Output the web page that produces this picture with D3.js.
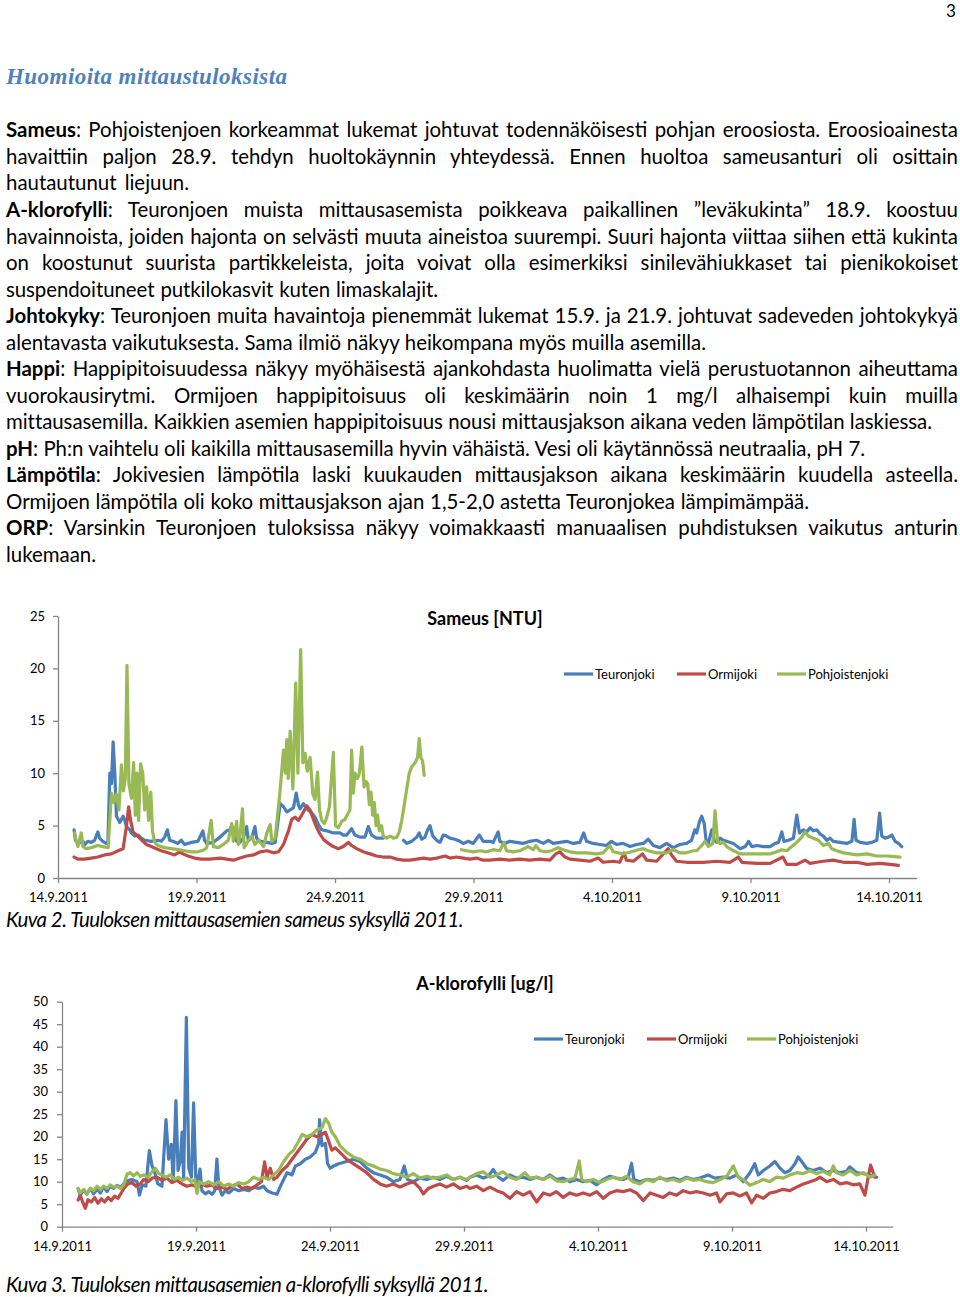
<!DOCTYPE html>
<html><head><meta charset="utf-8">
<script src="https://cdn.jsdelivr.net/npm/d3@7"></script>
<style>
html,body{margin:0;padding:0;background:#fff;}
body{width:960px;height:1297px;position:relative;overflow:hidden;font-family:Lato,"Open Sans",sans-serif;color:#000;}
.line{position:absolute;left:6px;white-space:normal;text-align:justify;text-align-last:justify;line-height:1;}
.fit{text-align:left;text-align-last:left;white-space:nowrap;}
.meas{position:absolute;left:0;top:0;visibility:hidden;white-space:nowrap;line-height:1;}
.ttl{font-family:"Liberation Serif","DejaVu Serif",serif;font-weight:bold;font-style:italic;color:#4F81BD;}
.cap{font-style:italic;}
svg{position:absolute;left:0;top:0;}
</style></head><body>
<script>
// ---------------- DATA (day offset from 14.9.2011 00:00, value) ----------------
const startDate = Date.UTC(2011, 8, 14);
const xTickDays = [0, 5, 10, 15, 20, 25, 30];
const seriesNames = ["Teuronjoki", "Ormijoki", "Pohjoistenjoki"];
const seriesColors = ["#4A7EBB", "#BE4B48", "#98B954"];
const sameusTicks = [0, 5, 10, 15, 20, 25];
const klorofylliTicks = [0, 5, 10, 15, 20, 25, 30, 35, 40, 45, 50];

const sameusTeuronjoki = [[0.58,4.6],[0.63,3.6],[0.72,3.3],[0.90,3.5],[0.96,3.2],[1.08,3.5],[1.20,3.4],[1.32,3.6],[1.44,4.4],[1.50,3.8],[1.62,3.5],[1.74,3.3],[1.80,3.3],[1.87,10.0],[1.93,9.0],[1.99,13.0],[2.05,10.0],[2.11,5.9],[2.17,5.6],[2.23,5.3],[2.35,5.9],[2.41,5.5],[2.47,4.9],[2.59,4.6],[2.65,4.3],[2.77,4.0],[2.89,4.1],[3.01,3.8],[3.13,3.6],[3.37,3.5],[3.61,3.6],[3.73,3.5],[3.85,3.9],[3.95,4.6],[4.03,3.6],[4.15,3.5],[4.33,3.3],[4.45,3.6],[4.57,3.2],[4.81,3.4],[5.05,3.5],[5.23,4.5],[5.29,3.6],[5.37,3.3],[5.61,3.4],[5.85,3.9],[5.97,4.2],[6.09,4.5],[6.21,4.6],[6.27,5.0],[6.33,4.5],[6.45,3.5],[6.57,3.4],[6.69,3.8],[6.81,4.9],[6.87,3.6],[6.99,3.8],[7.11,4.9],[7.17,3.8],[7.30,3.5],[7.54,3.4],[7.72,3.3],[7.84,3.4],[7.90,4.5],[8.02,7.1],[8.14,6.8],[8.26,6.3],[8.38,6.5],[8.50,6.7],[8.60,8.1],[8.68,7.0],[8.74,6.6],[8.86,7.1],[8.98,6.6],[9.16,6.2],[9.28,5.8],[9.40,5.1],[9.52,4.6],[9.70,4.5],[9.94,4.3],[10.18,4.3],[10.30,4.1],[10.42,4.1],[10.60,4.7],[10.72,4.1],[10.90,3.9],[11.08,3.9],[11.20,4.9],[11.32,4.1],[11.50,3.8],[11.74,3.8],[12.1,null],[12.47,3.6],[12.59,3.3],[12.77,3.5],[12.95,3.9],[13.04,4.3],[13.13,3.7],[13.25,3.9],[13.33,4.5],[13.43,5.0],[13.53,4.0],[13.67,3.6],[13.79,3.4],[13.91,4.1],[14.03,4.0],[14.15,3.8],[14.33,3.7],[14.51,3.5],[14.63,3.3],[14.81,3.5],[14.99,3.3],[15.21,4.1],[15.35,3.5],[15.59,3.5],[15.71,3.4],[15.89,4.4],[15.95,3.5],[16.13,3.3],[16.31,3.5],[16.55,3.4],[16.79,3.3],[17.03,3.5],[17.28,3.6],[17.52,3.3],[17.70,3.6],[17.88,3.3],[18.12,3.4],[18.36,3.5],[18.60,3.3],[18.84,3.4],[18.98,4.3],[19.08,3.5],[19.32,3.3],[19.56,3.2],[19.80,3.1],[19.98,3.5],[20.16,3.2],[20.40,3.3],[20.65,3.0],[20.89,3.2],[21.13,3.3],[21.31,3.7],[21.49,3.1],[21.73,2.9],[21.97,3.3],[22.21,2.9],[22.45,3.2],[22.69,3.3],[22.87,3.6],[22.99,4.6],[23.06,4.3],[23.16,5.4],[23.24,5.9],[23.33,5.2],[23.40,3.5],[23.48,3.3],[23.60,4.6],[23.69,3.6],[23.78,3.4],[23.90,3.8],[24.02,3.6],[24.14,3.5],[24.38,3.3],[24.63,2.8],[24.81,3.0],[24.93,3.5],[25.05,3.0],[25.23,3.1],[25.47,3.0],[25.71,3.0],[25.89,3.3],[26.01,3.4],[26.13,4.4],[26.21,3.5],[26.37,3.6],[26.55,3.8],[26.67,6.0],[26.77,4.3],[26.91,4.6],[27.03,4.4],[27.15,4.8],[27.27,4.5],[27.39,4.6],[27.51,4.2],[27.63,4.0],[27.75,3.6],[27.87,3.8],[27.99,3.5],[28.23,3.4],[28.48,3.3],[28.66,3.5],[28.74,5.6],[28.81,3.6],[28.96,3.4],[29.20,3.3],[29.38,3.4],[29.56,3.6],[29.66,6.2],[29.74,4.0],[29.86,3.8],[29.98,3.9],[30.10,4.1],[30.22,3.5],[30.34,3.3],[30.46,3.0]];

const sameusOrmijoki = [[0.58,2.0],[0.72,1.8],[0.96,1.8],[1.20,1.9],[1.44,2.0],[1.68,2.2],[1.93,2.3],[2.17,2.6],[2.35,2.8],[2.47,4.9],[2.55,6.8],[2.62,5.5],[2.71,4.4],[2.83,4.1],[2.95,3.8],[3.07,3.5],[3.19,3.2],[3.37,3.0],[3.55,2.8],[3.73,2.6],[3.97,2.4],[4.21,2.2],[4.39,2.5],[4.51,2.3],[4.69,2.1],[4.93,1.9],[5.17,1.8],[5.49,1.8],[5.85,1.9],[6.09,1.8],[6.33,1.7],[6.57,1.9],[6.81,2.1],[7.06,2.2],[7.30,2.5],[7.54,2.6],[7.78,2.4],[7.96,2.5],[8.14,3.2],[8.32,4.5],[8.44,5.6],[8.56,5.8],[8.68,5.5],[8.80,6.0],[8.98,6.9],[9.10,6.5],[9.22,5.6],[9.34,4.8],[9.46,4.2],[9.58,3.7],[9.76,3.3],[9.94,3.0],[10.12,2.8],[10.30,3.0],[10.48,3.4],[10.60,3.1],[10.78,2.8],[11.02,2.5],[11.26,2.3],[11.50,2.1],[11.74,2.0],[11.99,2.0],[12.23,1.8],[12.47,1.7],[12.71,1.7],[12.95,1.8],[13.19,1.9],[13.43,1.8],[13.67,1.9],[13.97,2.1],[14.15,1.9],[14.39,2.0],[14.63,1.9],[14.87,1.8],[15.11,1.9],[15.35,1.7],[15.59,1.7],[15.95,1.8],[16.31,1.7],[16.67,1.8],[17.03,1.7],[17.40,1.8],[17.76,1.7],[17.97,2.3],[18.12,2.5],[18.30,2.0],[18.48,1.8],[18.84,1.7],[19.20,1.6],[19.50,1.9],[19.68,1.5],[20.04,1.6],[20.28,1.5],[20.43,2.4],[20.52,1.7],[20.77,1.6],[21.10,2.3],[21.25,1.7],[21.61,1.6],[22.03,2.8],[22.15,2.2],[22.33,1.6],[22.69,1.5],[23.05,1.5],[23.30,1.5],[23.78,1.6],[24.26,1.5],[24.56,2.0],[24.69,1.5],[25.23,1.4],[25.71,1.4],[26.17,2.0],[26.31,1.3],[26.67,1.3],[26.97,1.7],[27.15,1.4],[27.39,1.5],[27.63,1.6],[27.99,1.7],[28.36,1.5],[28.84,1.5],[29.20,1.3],[29.68,1.4],[30.04,1.3],[30.34,1.2]];

const sameusPohjoistenjoki = [[0.60,4.3],[0.66,3.5],[0.72,3.0],[0.84,4.3],[0.90,3.0],[1.02,2.8],[1.20,2.9],[1.44,3.1],[1.62,3.0],[1.81,2.9],[1.93,8.1],[2.02,7.2],[2.11,8.0],[2.20,6.5],[2.29,10.8],[2.36,8.3],[2.43,9.5],[2.49,20.3],[2.56,9.0],[2.65,7.6],[2.73,11.0],[2.79,6.0],[2.85,10.0],[2.91,5.5],[2.98,10.9],[3.06,10.0],[3.13,6.5],[3.20,8.7],[3.27,5.5],[3.35,8.2],[3.41,4.5],[3.49,3.4],[3.61,3.1],[3.85,2.9],[4.09,2.8],[4.33,2.7],[4.57,2.6],[4.81,2.5],[5.05,2.5],[5.29,2.7],[5.37,2.9],[5.53,5.5],[5.61,3.0],[5.79,2.9],[5.97,3.2],[6.15,3.6],[6.27,5.2],[6.33,3.5],[6.45,5.4],[6.51,3.2],[6.57,4.0],[6.66,6.6],[6.72,2.9],[6.81,3.3],[6.99,4.0],[7.11,3.2],[7.24,3.6],[7.42,3.0],[7.54,4.3],[7.66,5.1],[7.72,3.5],[7.84,3.8],[7.96,6.8],[8.04,9.0],[8.14,12.2],[8.21,10.0],[8.26,13.2],[8.31,9.5],[8.38,14.0],[8.48,8.5],[8.58,18.6],[8.66,10.0],[8.76,21.8],[8.84,11.0],[8.92,11.9],[9.00,10.2],[9.10,11.5],[9.20,8.0],[9.28,7.5],[9.37,10.1],[9.44,6.5],[9.52,5.5],[9.61,5.2],[9.68,5.6],[9.80,6.8],[9.94,12.0],[10.02,5.0],[10.12,4.8],[10.24,5.4],[10.36,5.6],[10.48,6.2],[10.54,6.5],[10.60,12.2],[10.66,8.1],[10.72,10.0],[10.81,9.5],[10.88,10.0],[10.97,12.5],[11.05,8.7],[11.12,9.2],[11.18,9.0],[11.24,7.0],[11.30,8.2],[11.36,6.0],[11.42,7.2],[11.48,5.0],[11.54,6.0],[11.60,4.5],[11.68,5.0],[11.74,4.0],[11.86,3.8],[11.99,4.0],[12.11,3.8],[12.23,3.9],[12.32,4.4],[12.41,5.5],[12.49,6.8],[12.59,8.5],[12.68,10.0],[12.77,10.6],[12.89,11.0],[12.98,11.5],[13.04,13.3],[13.10,11.5],[13.16,11.2],[13.22,9.8],[13.9,null],[14.57,2.7],[14.75,2.6],[14.99,2.5],[15.23,2.6],[15.47,2.5],[15.71,2.7],[15.95,2.6],[16.10,3.4],[16.19,2.6],[16.43,2.5],[16.67,2.6],[16.97,3.0],[17.16,2.7],[17.25,3.1],[17.40,2.6],[17.64,2.5],[17.82,2.6],[18.06,2.9],[18.24,2.7],[18.48,2.5],[18.72,2.4],[19.08,2.4],[19.44,2.3],[19.68,2.4],[19.92,3.1],[20.04,2.5],[20.40,2.3],[20.71,2.5],[20.95,2.7],[21.13,2.8],[21.31,2.6],[21.61,2.4],[21.97,2.4],[22.21,2.7],[22.45,2.4],[22.69,2.4],[22.93,2.6],[23.06,2.6],[23.24,3.1],[23.36,3.5],[23.48,3.0],[23.64,3.3],[23.72,6.4],[23.81,3.5],[23.90,3.3],[24.02,3.4],[24.14,3.0],[24.32,2.7],[24.63,2.3],[24.99,2.3],[25.35,2.3],[25.71,2.3],[25.95,2.5],[26.13,2.7],[26.31,2.6],[26.49,3.0],[26.67,3.4],[26.85,3.9],[26.97,4.4],[27.09,4.0],[27.27,3.8],[27.45,3.6],[27.63,3.1],[27.81,3.3],[27.93,2.8],[28.11,2.6],[28.36,2.4],[28.60,2.3],[28.84,2.2],[29.20,2.3],[29.56,2.1],[29.92,2.1],[30.40,2.0]];

const klorofylliTeuronjoki = [[0.60,8.5],[0.68,7.0],[0.81,8.2],[0.93,7.2],[1.06,8.5],[1.18,7.3],[1.31,8.3],[1.43,7.5],[1.55,8.8],[1.68,7.8],[1.80,9.0],[1.93,8.5],[2.05,9.2],[2.18,8.8],[2.30,9.5],[2.43,10.2],[2.61,10.5],[2.80,10.0],[2.89,7.0],[2.99,9.3],[3.13,9.0],[3.26,16.9],[3.36,13.5],[3.46,12.0],[3.58,9.5],[3.73,9.0],[3.88,23.8],[3.98,15.0],[4.08,18.3],[4.15,10.0],[4.25,28.0],[4.33,12.5],[4.42,15.0],[4.48,21.0],[4.54,10.5],[4.64,46.5],[4.73,13.0],[4.83,11.0],[4.91,27.5],[5.00,9.0],[5.07,10.0],[5.15,12.8],[5.22,8.0],[5.35,7.3],[5.47,7.8],[5.60,7.2],[5.70,8.0],[5.78,15.0],[5.85,9.0],[5.97,7.0],[6.09,8.0],[6.22,7.5],[6.41,8.5],[6.59,8.0],[6.78,8.3],[6.97,8.0],[7.15,8.8],[7.34,8.5],[7.52,9.0],[7.65,8.0],[7.84,7.5],[8.02,7.2],[8.15,9.0],[8.27,10.5],[8.40,12.0],[8.58,11.5],[8.71,13.5],[8.89,14.0],[9.08,15.0],[9.27,15.5],[9.45,16.5],[9.58,18.5],[9.61,23.8],[9.70,18.0],[9.83,18.5],[9.91,14.0],[10.01,13.0],[10.14,13.5],[10.32,14.0],[10.62,14.5],[10.87,15.0],[11.12,14.5],[11.37,13.0],[11.62,12.0],[11.87,11.5],[12.11,11.0],[12.36,10.0],[12.61,10.5],[12.77,13.5],[12.89,10.5],[13.11,10.0],[13.36,10.8],[13.61,10.5],[13.86,11.0],[14.10,10.5],[14.35,11.2],[14.60,10.5],[14.85,11.0],[15.10,10.3],[15.22,11.0],[15.47,11.5],[15.72,10.8],[15.90,11.2],[16.09,12.7],[16.28,11.0],[16.46,10.3],[16.71,11.5],[16.96,10.8],[17.21,11.0],[17.46,10.5],[17.71,11.0],[17.96,10.5],[18.21,11.5],[18.45,10.5],[18.70,10.8],[18.95,10.0],[19.20,10.5],[19.45,10.0],[19.70,10.3],[19.95,9.3],[20.20,10.5],[20.44,11.2],[20.69,10.8],[20.94,10.5],[21.13,11.0],[21.25,14.1],[21.34,10.5],[21.56,10.0],[21.81,10.5],[22.06,10.3],[22.31,10.8],[22.56,10.5],[22.81,10.8],[23.06,10.3],[23.30,11.0],[23.55,10.5],[23.80,10.8],[24.11,11.5],[24.36,10.8],[24.67,11.0],[24.92,10.8],[25.17,11.5],[25.42,10.0],[25.67,12.0],[25.85,14.0],[25.98,11.5],[26.17,12.5],[26.41,13.5],[26.60,14.5],[26.79,13.0],[26.97,12.0],[27.16,12.5],[27.35,14.0],[27.47,15.5],[27.60,14.5],[27.78,13.0],[28.03,12.5],[28.28,13.0],[28.53,12.0],[28.78,12.5],[29.03,12.0],[29.27,12.3],[29.40,13.3],[29.65,12.0],[29.90,11.8],[30.15,11.5],[30.40,11.0]];

const klorofylliOrmijoki = [[0.60,5.9],[0.68,7.0],[0.77,5.5],[0.87,4.1],[0.97,6.0],[1.09,5.5],[1.22,6.5],[1.34,5.2],[1.47,6.2],[1.59,5.5],[1.72,6.5],[1.84,5.8],[1.97,6.8],[2.09,6.3],[2.21,7.5],[2.34,8.8],[2.46,9.5],[2.61,9.8],[2.76,9.0],[2.92,9.5],[3.05,10.5],[3.21,10.0],[3.36,10.8],[3.54,11.0],[3.73,10.3],[3.92,10.8],[4.10,9.8],[4.29,10.3],[4.48,9.5],[4.66,9.0],[4.85,9.3],[5.04,8.8],[5.22,9.5],[5.41,9.0],[5.60,9.3],[5.78,8.5],[5.97,8.8],[6.16,8.3],[6.34,9.0],[6.53,9.5],[6.72,8.5],[6.90,8.8],[7.09,8.5],[7.28,9.3],[7.44,10.0],[7.56,14.4],[7.65,11.0],[7.77,13.0],[7.90,10.5],[8.02,11.0],[8.21,12.5],[8.40,13.5],[8.58,15.0],[8.77,16.5],[8.96,18.0],[9.14,19.5],[9.33,20.5],[9.51,20.0],[9.70,20.5],[9.83,21.0],[9.95,19.0],[10.07,17.0],[10.20,17.5],[10.37,16.5],[10.62,15.0],[10.87,14.0],[11.12,13.0],[11.37,12.0],[11.62,10.5],[11.87,9.5],[12.11,9.0],[12.36,9.5],[12.61,8.8],[12.86,9.5],[13.11,10.0],[13.36,8.5],[13.48,7.3],[13.67,8.5],[13.86,9.0],[14.10,9.5],[14.35,8.8],[14.60,9.5],[14.85,8.5],[15.10,9.0],[15.22,8.5],[15.47,9.0],[15.72,8.0],[15.97,8.8],[16.22,8.0],[16.46,7.5],[16.71,6.3],[16.96,7.8],[17.21,7.0],[17.46,7.8],[17.71,5.5],[17.96,7.5],[18.21,7.0],[18.45,7.8],[18.70,6.5],[18.95,7.5],[19.20,7.0],[19.45,7.5],[19.70,7.0],[19.95,7.8],[20.20,6.3],[20.44,7.5],[20.69,8.0],[20.94,7.8],[21.19,8.2],[21.44,7.5],[21.69,5.8],[21.94,7.5],[22.19,7.0],[22.43,6.5],[22.68,7.5],[22.93,7.0],[23.18,8.0],[23.43,7.5],[23.68,7.8],[23.93,7.5],[24.18,7.0],[24.42,7.5],[24.55,5.5],[24.80,7.3],[25.05,7.5],[25.29,6.8],[25.54,7.5],[25.73,5.3],[25.92,7.0],[26.17,6.3],[26.41,7.5],[26.66,7.8],[26.91,8.3],[27.16,8.0],[27.41,8.8],[27.66,9.5],[27.91,10.0],[28.15,10.5],[28.28,11.0],[28.53,10.0],[28.78,10.5],[29.03,9.5],[29.27,9.8],[29.52,9.3],[29.77,9.5],[29.96,7.0],[30.08,11.0],[30.17,13.7],[30.27,12.0],[30.33,11.0]];

const klorofylliPohjoistenjoki = [[0.60,8.5],[0.68,7.5],[0.81,8.3],[0.93,7.3],[1.06,8.5],[1.18,8.0],[1.31,9.0],[1.43,8.2],[1.55,9.0],[1.68,8.5],[1.80,9.3],[1.93,8.8],[2.05,9.0],[2.18,8.5],[2.30,9.3],[2.43,11.7],[2.55,12.0],[2.67,11.3],[2.80,12.0],[2.92,11.2],[3.05,11.5],[3.21,11.0],[3.33,12.0],[3.48,13.0],[3.61,11.8],[3.73,11.5],[3.88,11.0],[4.04,11.5],[4.20,10.5],[4.35,11.0],[4.50,10.3],[4.66,10.8],[4.83,10.0],[4.95,10.5],[5.04,7.4],[5.12,10.0],[5.29,9.5],[5.47,10.0],[5.66,9.3],[5.85,10.0],[6.03,9.0],[6.22,9.5],[6.41,9.0],[6.59,9.8],[6.78,9.5],[6.97,10.0],[7.15,11.0],[7.34,10.5],[7.52,11.0],[7.71,10.5],[7.90,11.5],[8.08,12.5],[8.27,14.5],[8.46,16.0],[8.64,17.0],[8.83,19.0],[8.96,20.5],[9.14,20.0],[9.33,20.5],[9.51,21.5],[9.70,22.0],[9.83,24.0],[9.95,23.0],[10.07,21.0],[10.20,20.0],[10.37,18.0],[10.62,16.5],[10.87,15.5],[11.12,15.0],[11.37,14.0],[11.62,13.5],[11.87,12.8],[12.11,12.5],[12.36,11.8],[12.61,11.5],[12.86,11.0],[13.11,11.8],[13.36,10.8],[13.61,11.2],[13.86,10.8],[14.10,11.0],[14.35,11.5],[14.60,10.5],[14.85,11.0],[15.10,10.5],[15.22,11.0],[15.47,11.8],[15.72,12.2],[15.97,11.0],[16.22,11.5],[16.46,12.2],[16.71,11.0],[16.96,10.5],[17.27,12.0],[17.46,10.8],[17.71,11.0],[17.96,10.5],[18.21,11.2],[18.45,10.2],[18.70,10.0],[18.95,10.5],[19.14,10.8],[19.30,14.6],[19.39,10.5],[19.57,10.0],[19.82,10.5],[20.07,9.8],[20.32,10.5],[20.57,11.0],[20.82,10.5],[21.07,11.2],[21.31,10.0],[21.56,9.5],[21.81,10.5],[22.06,10.0],[22.31,11.0],[22.56,10.2],[22.81,10.5],[23.06,10.0],[23.30,10.8],[23.55,10.3],[23.80,10.5],[24.05,10.0],[24.30,9.8],[24.55,10.5],[24.80,11.2],[25.05,13.5],[25.23,11.0],[25.42,10.5],[25.67,9.2],[25.92,9.8],[26.17,10.5],[26.41,10.0],[26.66,11.0],[26.91,10.8],[27.16,11.5],[27.41,12.0],[27.66,11.8],[27.91,12.5],[28.15,11.8],[28.40,12.3],[28.65,11.5],[28.78,13.5],[28.90,12.0],[29.15,11.5],[29.40,12.5],[29.65,11.5],[29.90,12.0],[30.15,11.0],[30.33,11.5]];

// ---------------- TEXT ----------------
const textLines = [
 {h:'<b>Sameus</b>: Pohjoistenjoen korkeammat lukemat johtuvat todennäköisesti pohjan eroosiosta. Eroosioainesta', b:137, w:951},
 {h:'havaittiin paljon 28.9. tehdyn huoltokäynnin yhteydessä. Ennen huoltoa sameusanturi oli osittain', b:164, w:951},
 {h:'hautautunut liejuun.', b:190, w:182, last:true},
 {h:'<b>A-klorofylli</b>: Teuronjoen muista mittausasemista poikkeava paikallinen ”leväkukinta” 18.9. koostuu', b:217, w:951},
 {h:'havainnoista, joiden hajonta on selvästi muuta aineistoa suurempi. Suuri hajonta viittaa siihen että kukinta', b:244, w:951},
 {h:'on koostunut suurista partikkeleista, joita voivat olla esimerkiksi sinilevähiukkaset tai pienikokoiset', b:270, w:951},
 {h:'suspendoituneet putkilokasvit kuten limaskalajit.', b:297, w:431, last:true},
 {h:'<b>Johtokyky</b>: Teuronjoen muita havaintoja pienemmät lukemat 15.9. ja 21.9. johtuvat sadeveden johtokykyä', b:323, w:951},
 {h:'alentavasta vaikutuksesta. Sama ilmiö näkyy heikompana myös muilla asemilla.', b:350, w:699, last:true},
 {h:'<b>Happi</b>: Happipitoisuudessa näkyy myöhäisestä ajankohdasta huolimatta vielä perustuotannon aiheuttama', b:376, w:951},
 {h:'vuorokausirytmi. Ormijoen happipitoisuus oli keskimäärin noin 1 mg/l alhaisempi kuin muilla', b:403, w:951},
 {h:'mittausasemilla. Kaikkien asemien happipitoisuus nousi mittausjakson aikana veden lämpötilan laskiessa.', b:429, w:925, last:true},
 {h:'<b>pH</b>: Ph:n vaihtelu oli kaikilla mittausasemilla hyvin vähäistä. Vesi oli käytännössä neutraalia, pH 7.', b:456, w:858, last:true},
 {h:'<b>Lämpötila</b>: Jokivesien lämpötila laski kuukauden mittausjakson aikana keskimäärin kuudella asteella.', b:482, w:951},
 {h:'Ormijoen lämpötila oli koko mittausjakson ajan 1,5-2,0 astetta Teuronjokea lämpimämpää.', b:509, w:802, last:true},
 {h:'<b>ORP</b>: Varsinkin Teuronjoen tuloksissa näkyy voimakkaasti manuaalisen puhdistuksen vaikutus anturin', b:535, w:951},
 {h:'lukemaan.', b:562, w:92, last:true},
 {h:'Kuva 2. Tuuloksen mittausasemien sameus syksyllä 2011.', b:927, w:456, cls:'cap'},
 {h:'Kuva 3. Tuuloksen mittausasemien a-klorofylli syksyllä 2011.', b:1292, w:481, cls:'cap'}
];

function measure(html, cls, fs) {
  const s = document.createElement('span');
  s.className = 'meas ' + (cls || '');
  s.style.fontSize = fs + 'px';
  s.innerHTML = html;
  document.body.appendChild(s);
  const w = s.getBoundingClientRect().width;
  s.remove();
  return w;
}
function placeLine(html, cls, fs, baseline, target, left, fitMode) {
  const nat = measure(html, cls, fs);
  const d = document.createElement('div');
  d.className = 'line ' + (cls || '') + (fitMode ? ' fit' : '');
  d.style.fontSize = fs + 'px';
  d.style.left = left + 'px';
  d.style.width = (target + 1) + 'px';
  const chars = d3.sum(html.replace(/<[^>]+>/g, ''), () => 1);
  if (fitMode) d.style.letterSpacing = ((target - nat) / (chars - 1)) + 'px';
  else if (nat > target - 1) d.style.letterSpacing = ((target - 1.5 - nat) / chars) + 'px';
  d.innerHTML = '<span class="bm" style="display:inline-block;width:0;height:0;vertical-align:baseline"></span>' + html;
  d.style.top = '0px';
  document.body.appendChild(d);
  const bm = d.querySelector('.bm');
  const off = bm.getBoundingClientRect().top - d.getBoundingClientRect().top;
  d.style.top = (baseline - off) + 'px';
}

const baseFs = 20;
const ratios = textLines.filter(l => l.last && l.w > 600).map(l => l.w / measure(l.h, l.cls, baseFs));
const bodyFs = Math.min(22, baseFs * d3.median(ratios));
textLines.forEach(l => placeLine(l.h, l.cls, bodyFs, l.b, l.w, 6, false));
placeLine('Huomioita mittaustuloksista', 'ttl', 23, 84, 281, 6, true);

// ---------------- SVG ----------------
const svg = d3.select('body').append('svg').attr('width', 960).attr('height', 1297);
svg.append('text').attr('x', 951).attr('y', 17).attr('text-anchor', 'middle')
  .style('font-family', 'Lato').style('font-size', '17px').text('3');

const fmt = d3.utcFormat('%-d.%-m.%Y');
const dayToDate = d => new Date(startDate + d * 864e5);

function drawChart(c) {
  const g = svg.append('g');
  const x = d3.scaleUtc().domain([dayToDate(0), dayToDate(31)]).range([c.x0, c.x0 + 31 * c.pxDay]);
  const y = d3.scaleLinear().domain([0, c.yMax]).range([c.yBottom, c.yTop]);
  const ax = g.append('g').attr('transform', `translate(0,${c.yBottom})`)
    .call(d3.axisBottom(x).tickValues(xTickDays.map(dayToDate)).tickFormat(fmt).tickSize(5).tickSizeOuter(0).tickPadding(c.xPad));
  const ay = g.append('g').attr('transform', `translate(${c.x0},0)`)
    .call(d3.axisLeft(y).tickValues(c.yTicks).tickSize(5).tickSizeOuter(0).tickPadding(c.yPad));
  [ax, ay].forEach(a => {
    a.select('.domain').attr('stroke', '#868686').attr('stroke-width', 1.3);
    a.selectAll('.tick line').attr('stroke', '#868686').attr('stroke-width', 1.3);
    a.selectAll('.tick text').style('font-family', 'Lato').style('font-size', '13px').attr('fill', '#000');
  });
  const line = d3.line().defined(d => d[1] != null).x(d => x(dayToDate(d[0]))).y(d => y(d[1]));
  c.series.forEach((s, i) => {
    g.append('path').datum(s).attr('d', line).attr('fill', 'none')
      .attr('stroke', seriesColors[i]).attr('stroke-width', 3.2)
      .attr('stroke-linejoin', 'round').attr('stroke-linecap', 'round');
  });
  g.append('text').attr('x', 485).attr('y', c.titleY).attr('dy', '0.35em').attr('text-anchor', 'middle')
    .style('font-family', 'Lato').style('font-weight', 'bold').style('font-size', '18px').text(c.title);
  seriesNames.forEach((n, i) => {
    const lx = c.legendX[i];
    g.append('line').attr('x1', lx).attr('x2', lx + 29).attr('y1', c.legendY).attr('y2', c.legendY)
      .attr('stroke', seriesColors[i]).attr('stroke-width', 3.2);
    g.append('text').attr('x', lx + 31).attr('y', c.legendY).attr('dy', '0.35em')
      .style('font-family', 'Lato').style('font-size', '13px').text(n);
  });
}

drawChart({x0: 58, pxDay: 27.7, yBottom: 878, yTop: 616, yMax: 25, yTicks: sameusTicks, xPad: 10, yPad: 8,
  title: 'Sameus [NTU]', titleY: 619, legendX: [564, 677, 777], legendY: 674,
  series: [sameusTeuronjoki, sameusOrmijoki, sameusPohjoistenjoki]});
drawChart({x0: 62, pxDay: 26.8, yBottom: 1226.7, yTop: 1001.7, yMax: 50, yTicks: klorofylliTicks, xPad: 10.5, yPad: 9,
  title: 'A-klorofylli [ug/l]', titleY: 984, legendX: [534, 647, 747], legendY: 1039,
  series: [klorofylliTeuronjoki, klorofylliOrmijoki, klorofylliPohjoistenjoki]});
</script>
</body></html>
